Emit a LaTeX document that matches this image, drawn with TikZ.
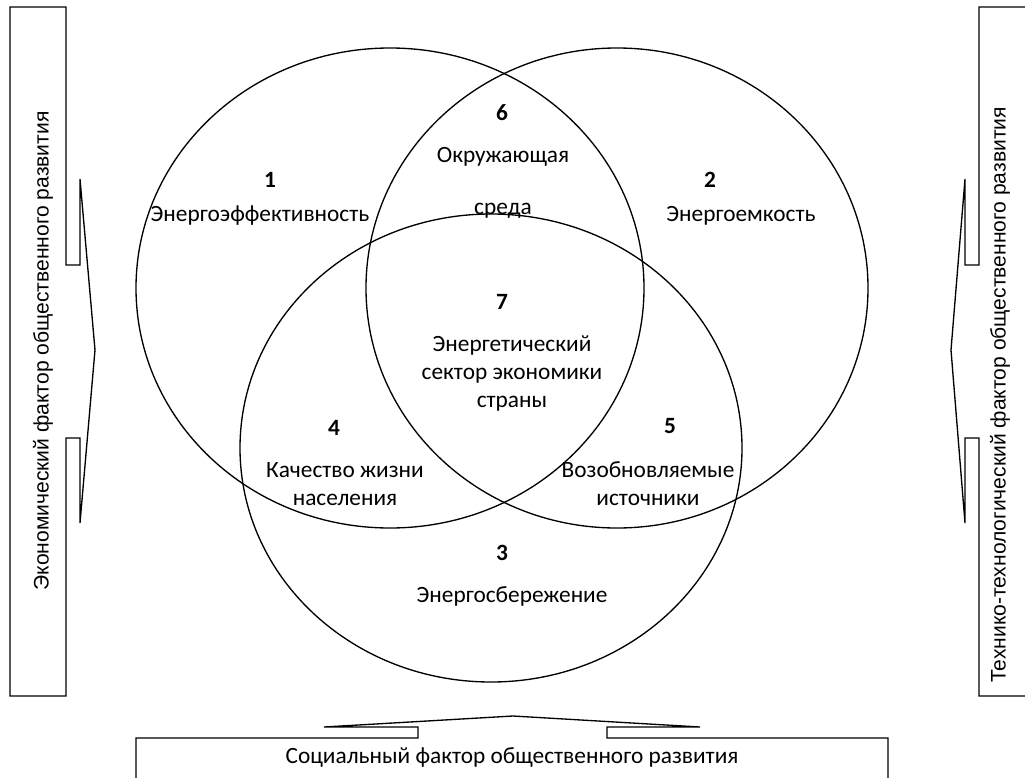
\documentclass[tikz,border=0pt]{standalone}
\usepackage{fontspec}
\setmainfont{Carlito}
\newfontfamily\sidefont{Liberation Sans}
\usetikzlibrary{positioning}
\tikzstyle{ring} = [draw=black, line width=1pt]
\tikzstyle{factor} = [draw=black, line width=1pt, line join=miter]
\tikzstyle{num} = [font=\fontsize{17.5}{21}\selectfont\bfseries, inner sep=0pt]
\tikzstyle{zone} = [font=\fontsize{17.5}{21}\selectfont, align=center, inner sep=0pt]
\tikzstyle{sidetext} = [font=\sidefont\fontsize{15.8}{19}\selectfont, rotate=90, inner sep=0pt]
\tikzstyle{bottomtext} = [font=\fontsize{17.5}{21}\selectfont, inner sep=0pt]

\begin{document}
\begin{tikzpicture}[x=0.75pt, y=-0.75pt]
 \clip (0,0) rectangle (1025,778);

 % three circles
 \draw [ring] (390,288) ellipse [x radius=254, y radius=240];
 \draw [ring] (617,288) ellipse [x radius=251, y radius=240];
 \draw [ring] (491,448) ellipse [x radius=251, y radius=234];

 % factor boxes
 \draw [factor] (66,265) -- (66,7) -- (10,7) -- (10,696) -- (66,696) -- (66,438) -- (80,438) -- (80,523) -- (95,350) -- (80,179) -- (80,265) -- cycle;
 \draw [factor] (979,265) -- (979,7) -- (1035,7) -- (1035,696) -- (979,696) -- (979,438) -- (965,438) -- (965,523) -- (951,350) -- (965,179) -- (965,265) -- cycle;
 \draw [factor] (418,738) -- (136,738) -- (136,790) -- (888,790) -- (888,738) -- (607,738) -- (607,727) -- (700,727) -- (513,716) -- (324,727) -- (418,727) -- cycle;

 \node (econ) [sidetext] at (43,351) {Экономический фактор общественного развития};
 \node (tech) [sidetext] at (1000,395) {Технико-технологический фактор общественного развития};
 \node (social) [bottomtext] at (512,757) {Социальный фактор общественного развития};

 % zones
 \node (n1) [num] at (270,180) {1};
 \node (z1) [zone] at (260,216) {Энергоэффективность};
 \node (n2) [num] at (710,180) {2};
 \node (z2) [zone] at (741,216) {Энергоемкость};
 \node (n3) [num] at (502,553) {3};
 \node (z3) [zone] at (512,596) {Энергосбережение};
 \node (n4) [num] at (334,428) {4};
 \node (z4) [zone] at (345,484) {Качество жизни\\населения};
 \node (n5) [num] at (670,426) {5};
 \node (z5) [zone] at (648,484) {Возобновляемые\\источники};
 \node (n6) [num] at (502,113) {6};
 \node (z6) [zone] at (503,183) {Окружающая\\[18pt]среда};
 \node (n7) [num] at (502,302) {7};
 \node (z7) [zone] at (512,373) {Энергетический\\сектор экономики\\страны};
\end{tikzpicture}
\end{document}
